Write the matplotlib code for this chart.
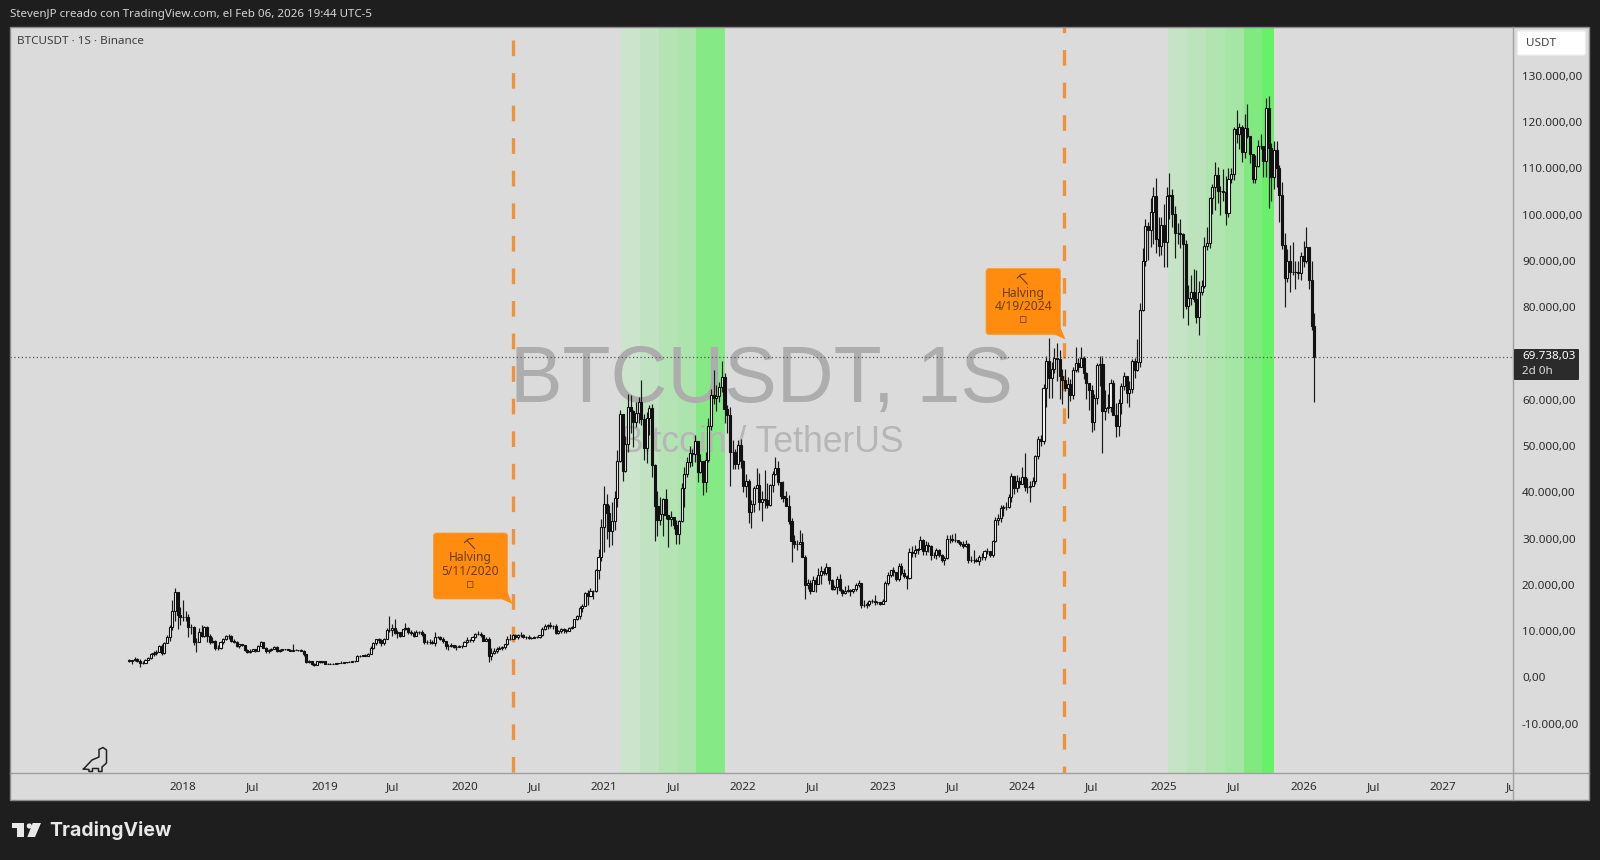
import matplotlib
matplotlib.use('Agg')
import matplotlib.pyplot as plt
import matplotlib.dates as mdates
from matplotlib.patches import Rectangle, FancyBboxPatch, Polygon, Circle
import numpy as np
import pandas as pd

plt.rcParams['font.family'] = ['Noto Sans', 'DejaVu Sans']

# weekly candles, thousands of USDT, first week starts 2017-08-14
close_2017 = [4.09,4.31,4.58,4.13,3.69,3.66,4.37,4.77,5.68,5.93,6.13,7.35,5.81,8.0,9.3,11.5,15.0,19.0,14.0,13.7]
high_2017 = [4.49,4.37,4.94,4.66,4.45,4.13,4.47,4.92,5.86,6.24,6.47,7.59,7.78,8.3,9.75,11.8,17.2,19.8,19.0,15.8]
low_2017 = [3.85,3.4,4.11,3.8,2.82,3.52,3.65,4.24,4.55,5.1,5.38,6.0,5.32,5.6,7.9,8.5,10.7,12.8,11.0,11.9]

close_2018 = [13.6,13.6,11.5,11.5,8.2,8.1,10.3,9.6,11.4,9.5,8.2,8.5,6.9,7.0,8.3,8.8,9.4,9.6,8.5,8.2,7.4,7.7,7.6,6.4,6.1,6.3,6.7,6.2,7.4,8.2,7.0,6.3,6.4,6.7,7.2,6.25,6.5,6.7,6.6,6.55,6.3,6.4,6.45,6.4,6.35,5.6,3.8,4.1,3.55,3.2,4.0,3.8,4.05]
high_2018 = [17.25,15,14.2,12.2,11.7,9.1,11.3,11.8,11.7,11.7,9.9,9.2,8.7,7.5,8.5,9,9.8,10,9.8,8.9,8.5,7.8,7.8,7.6,6.8,6.6,6.8,6.8,7.6,8.5,8.2,7.2,6.6,7,7.3,7.4,6.6,6.8,6.8,6.6,6.7,7.8,6.6,6.5,6.6,6.4,5.6,4.4,4.2,3.6,4.2,4.2,4.2]
low_2018 = [12.7,12.8,9.2,10,7.6,6,8.1,9.3,9.3,8.3,7.7,7.9,6.5,6.4,6.6,7.8,8.6,8.9,8.2,7.9,7.2,7,7.3,6.3,5.8,5.8,6.2,6.1,6.2,7.3,6.9,5.9,5.9,6.3,6.6,6.1,6.1,6.2,6.4,6.4,6.2,6.3,6.4,6.2,6.3,5.2,3.7,3.7,3.3,3.1,3.2,3.6,3.7]

close_2019 = [3.55,3.55,3.55,3.45,3.65,3.65,3.7,3.8,3.9,3.95,4.0,4.08,5.15,5.15,5.3,5.27,5.7,6.95,8.0,8.75,8.55,7.9,8.86,10.7,10.8,11.25,10.2,10.3,9.48,10.99,11.3,10.3,10.15,9.59,10.4,10.3,10.0,8.2,8.15,8.3,7.95,9.25,9.2,8.8,8.5,7.3,7.42,7.5,7.1,7.15,7.3,7.35]
high_2019 = [4.1,3.7,3.66,3.6,3.7,3.7,4.2,3.9,3.95,4.0,4.1,4.15,5.3,5.5,5.35,5.6,5.8,7.4,8.3,8.9,9.1,8.8,9.1,11.2,13.8,12.0,13.1,10.8,10.2,11.0,12.3,11.4,10.9,10.6,10.9,10.5,10.9,10.1,8.6,8.8,8.7,10.3,9.6,9.5,9.2,8.5,7.8,7.9,7.4,7.5,7.6,7.5]
low_2019 = [3.5,3.45,3.5,3.35,3.4,3.55,3.65,3.7,3.7,3.8,3.85,3.9,4.05,4.9,5.1,5.1,5.3,5.7,6.8,7.5,8.0,7.4,7.5,8.9,10.3,9.6,9.9,9.1,9.2,9.4,10.8,9.9,9.8,9.3,9.5,9.9,9.6,7.7,7.7,7.8,7.8,7.3,9.0,8.7,8.0,6.8,6.5,7.2,7.0,6.4,7.1,6.9]

close_2020 = [8.18,8.7,8.6,9.37,9.9,9.9,9.66,8.53,8.9,5.2,5.9,6.25,6.77,6.9,7.1,7.7,8.87,8.9,9.68,9.18,9.7,9.75,9.34,9.29,9.0,9.07,9.3,9.2,9.7,11.0,11.67,11.85,11.65,11.7,10.25,10.68,11.08,10.77,10.66,11.3,11.5,13.1,13.8,15.48,16.05,18.7,18.2,19.15,19.2,23.8,26.5,33.0]
high_2020 = [8.4,9.2,8.9,9.6,10.2,10.5,10.3,9.7,9.2,9.2,6.9,6.98,7.2,7.45,7.3,7.8,9.5,10.0,10.0,9.9,9.9,10.4,10.0,9.6,9.8,9.2,9.5,9.4,9.8,11.4,12.1,12.1,12.5,11.8,12.1,10.8,11.2,11.2,11.0,11.4,11.7,13.2,14.1,15.9,16.5,18.9,19.4,19.9,19.4,24.0,28.4,34.8]
low_2020 = [7.4,8.0,8.2,8.3,9.1,9.7,9.3,8.4,8.4,3.8,4.4,5.6,5.9,6.7,6.5,6.8,7.6,8.7,8.8,8.8,8.8,9.3,9.1,8.9,8.8,8.9,9.0,9.1,9.0,9.6,10.9,11.1,11.3,11.1,9.9,9.9,10.2,10.1,10.1,10.5,11.1,11.4,12.9,13.2,14.7,15.9,16.2,18.1,17.6,19.0,21.8,25.8]

close_2021 = [38.1,36.0,32.1,34.3,39.3,47.2,57.4,45.2,50.9,59.0,58.0,55.8,57.6,60.0,56.3,50.1,56.6,58.8,46.4,37.5,34.6,35.8,39.0,35.6,34.7,35.3,33.5,31.5,34.3,41.5,44.6,47.0,49.0,48.9,51.7,45.0,47.2,42.7,47.6,54.9,61.5,60.9,61.3,63.3,65.5,58.6,57.3,49.3,49.3,46.7,50.8,47.3]
high_2021 = [41.9,40.1,37.9,38.5,40.9,49.7,58.3,57.5,52.6,61.8,61.6,58.4,60,61.2,64.9,57.5,57.9,59.5,59.6,46.6,40.9,39.5,39.3,41.3,35.7,36.6,35.1,34.6,34.5,42.6,46,48.1,50.5,49.9,52.9,47,48.8,45.2,49.2,56.5,62.9,67,63.7,64.3,69,66.3,59.4,59,51.9,50,51.9,52.1]
low_2021 = [27.7,30.4,28.8,29.2,32.3,37.4,47,43,44.9,49.3,53.3,50.4,54.7,55.4,55,47.5,46.9,53,43.8,30,31.1,33.4,31,34.8,28.8,33.2,32.7,29.3,29.3,34.1,37.3,43.8,46,46.3,47.1,42.8,44.7,40,40.7,47.1,53.9,59.7,58,60.1,62.3,55.6,53.3,42,45.5,45.5,45.6,45.7]

close_2022 = [41.9,43.0,36.3,38.1,41.4,42.2,38.4,39.1,38.8,37.8,42.2,44.5,45.8,42.7,39.7,39.4,37.6,34.3,30.0,29.4,29.4,29.9,26.6,20.5,21.0,19.3,21.6,20.8,22.6,23.6,23.2,24.3,21.5,19.6,20.0,21.8,19.4,18.8,19.3,19.4,19.2,19.6,20.6,20.9,16.3,16.3,16.4,17.1,17.1,16.8,16.8,16.5]
high_2022 = [47.5,44.5,43.5,38.9,41.8,45.8,44.8,40.9,45.4,42.6,42.3,45.1,48.2,47.2,41.5,42.9,40.8,39.9,35,31.3,30.2,32.4,31.8,26.9,21.9,21.6,22.5,22.3,24.2,24.7,24.2,25.2,24.4,21.8,20.6,22.4,22.8,19.7,20.4,20.5,19.7,19.7,21,21.5,21,17.2,16.8,17.3,17.4,18.4,17.1,16.9]
low_2022 = [40.5,39.6,34,32.9,36.2,41.7,36.8,34.3,37.2,37.2,37.5,40.5,44.2,42.1,39.2,38.5,37.7,33.7,25.4,28.6,28,29.3,26.6,17.6,19.6,18.6,19.3,19,20.7,20.7,22.6,22.7,20.8,19.5,19.5,18.5,19.3,18.1,18.5,19,18.2,18.7,19.3,20.1,15.6,15.8,15.5,16,16.6,16.3,16.4,16.3]

close_2023 = [17.1,20.9,22.7,23.7,23.3,21.8,24.6,23.2,22.4,22.1,27.6,27.5,28.0,28.3,30.3,27.8,29.2,28.9,26.9,27.1,28.1,27.0,25.9,26.3,30.5,30.5,30.2,30.3,29.8,29.3,29.0,29.3,26.0,26.0,25.9,25.8,26.5,26.6,27.9,27.9,27.1,30.0,34.5,35.0,37.1,37.4,37.4,39.5,44.0,41.4,43.0,42.3]
high_2023 = [17.4,21.3,23.4,23.8,24.3,23.4,25.3,25.2,23.9,22.6,28.5,28.9,29.2,28.6,31,30.5,30,29.9,29.1,27.7,28.5,28.4,27.3,26.8,31.4,31.4,31.5,31.8,30.3,30,30,30.2,29.5,26.8,28.1,26.4,26.9,27.5,28,28.6,27.9,30.3,35.3,35.9,37.9,37.9,38.4,40.2,44.7,44,44.3,43.8]
low_2023 = [16.5,17,20.5,22.3,22.5,21.4,21.3,22.7,22.1,19.6,21.9,26.6,26.5,27.2,28.2,27.1,26.9,27.7,26,26.4,26.1,26.6,25.4,24.8,26.2,29.5,29.9,29.7,29.5,29,28.6,28.7,25.2,25.4,25.3,25.4,24.9,26,26,27.2,26.5,26.6,29.9,33.4,34.2,35.5,36.7,37.2,38.4,40.2,40.5,41.5]

close_2024 = [43.9,41.7,41.6,42.0,43.0,48.3,52.1,51.7,63.1,68.9,65.3,67.2,69.6,69.3,65.7,64.9,63.1,64.0,61.5,66.9,68.5,67.5,69.6,66.2,64.2,62.7,55.8,60.8,68.0,68.2,58.2,58.7,58.9,64.2,57.3,54.8,59.9,63.4,65.6,62.0,62.8,69.0,67.0,68.7,80.0,90.6,98.0,97.2,101.1,104.5,95.2,93.7,98.3]
high_2024 = [45.9,49,43.6,42.9,43.9,48.6,52.8,52.9,64,70,73.8,68.7,71.6,72.8,71.3,67.2,67.2,65.5,65,67.7,71.9,69.5,71.9,70,66.5,63.4,63.8,61.8,68.4,70,70,62.7,61.8,65,64.9,59.8,60.7,64.1,66.5,65.6,64.5,69.4,69.5,73.6,81.5,93.3,99.6,98.9,104,106.5,108.4,99.9,99.9]
low_2024 = [42.6,40.8,40.3,38.5,41.9,42.3,47.7,50.6,50.9,59,60.8,60.8,66.2,64.5,60.6,59.7,62.4,56.6,60.2,60.7,66.6,66.6,67.6,65.1,60.7,58.4,53.5,54,59.7,63.4,49.1,56.1,57.6,57.8,57.2,52.5,52.6,57.5,62.7,59.8,59,62,65.2,66.8,67.5,79.6,89.4,90.7,93.6,94.2,92.2,91.5,91.7]

close_2025 = [94.5,104.5,104.7,100.6,96.5,96.5,96.3,94.2,80.7,82.5,83.8,82.3,78.4,83.7,85.1,93.7,94.3,104.1,106.4,109.0,105.7,105.7,105.5,100.9,108.3,109.2,119.0,117.9,119.4,114.0,119.3,117.4,113.5,108.3,111.1,115.3,115.3,112.2,123.5,115.0,108.6,114.5,110.5,104.7,94.0,86.8,90.4,88.2,88.1,88.1,87.8,91.5]
high_2025 = [102.7,106.4,109.6,106,102.3,98.8,99.5,96.5,95,85.3,87.5,88.7,88.5,86.1,86.5,95.7,97.9,104.3,107.1,111.9,110.7,106.8,110.4,108.9,110.6,110.5,119.5,123.2,120.2,119.8,122.3,124.5,117.5,113.6,113.4,116.7,117.9,113.5,125.7,126.2,115.9,116.4,116.4,111.2,107.5,96.6,93.1,93.9,94.6,90.6,90.6,92.5]
low_2025 = [89.3,89.3,99.5,97.8,91.2,94.1,93.4,78.2,80.1,76.6,81.1,81.6,77.1,74.5,83.1,84.7,92.8,93.4,100.7,101.5,103.1,100.4,103.4,98.2,100,107.3,108,116,114.7,111.9,112.7,117,111.7,107.3,107.3,110.8,114.7,108.7,108.6,102,103.5,106,106.4,98.9,93,80.6,86,83.8,87.5,84.5,86.6,86.3]

close_2026 = [90.5,93.6,86.5,76.4,69.738]
high_2026 = [94.8,97.9,91.1,90.6,79.3]
low_2026 = [89.3,90.0,84.5,75.7,60.0]

last_price = 69738.03
first_open = 4.26

halving_dates = ['2020-05-11', '2024-04-19']
band_edges_2021 = ['2021-02-17', '2021-04-08', '2021-05-27', '2021-07-16', '2021-09-01', '2021-11-17']
band_edges_2025 = ['2025-01-16', '2025-03-08', '2025-04-25', '2025-06-14', '2025-08-02', '2025-09-18', '2025-10-21']
band_colors_2021 = ['#cce3cc', '#c2e3c2', '#b4e3b4', '#ade4ad', '#85e985']
band_colors_2025 = ['#c5e3c5', '#bde3bd', '#b0e5b0', '#a5e6a5', '#80e980', '#68f068']

price_ticks = [130000, 120000, 110000, 100000, 90000, 80000, 60000, 50000, 40000, 30000, 20000, 10000, 0, -10000]
price_labels = ['130.000,00', '120.000,00', '110.000,00', '100.000,00', '90.000,00', '80.000,00',
                '60.000,00', '50.000,00', '40.000,00', '30.000,00', '20.000,00', '10.000,00', '0,00', '-10.000,00']

# the scale labels sit on the first weekly bar of each period
time_ticks = ['2018-01-01', '2018-07-02', '2019-01-07', '2019-07-01', '2020-01-06', '2020-07-06', '2021-01-04',
              '2021-07-05', '2022-01-03', '2022-07-04', '2023-01-02', '2023-07-03', '2024-01-01', '2024-07-01',
              '2025-01-06', '2025-07-07', '2026-01-05', '2026-07-06', '2027-01-04', '2027-07-05']
time_labels = ['2018', 'Jul', '2019', 'Jul', '2020', 'Jul', '2021', 'Jul', '2022', 'Jul', '2023', 'Jul',
               '2024', 'Jul', '2025', 'Jul', '2026', 'Jul', '2027', 'Jul']

close = 1000 * np.array(close_2017 + close_2018 + close_2019 + close_2020 + close_2021 + close_2022 + close_2023 + close_2024 + close_2025 + close_2026)
high = 1000 * np.array(high_2017 + high_2018 + high_2019 + high_2020 + high_2021 + high_2022 + high_2023 + high_2024 + high_2025 + high_2026)
low = 1000 * np.array(low_2017 + low_2018 + low_2019 + low_2020 + low_2021 + low_2022 + low_2023 + low_2024 + low_2025 + low_2026)
opens = np.r_[first_open * 1000, close[:-1]]
weeks = mdates.date2num(pd.date_range('2017-08-14', periods=len(close), freq='7D'))

W, H = 1600, 860
DARK = '#1e1e1e'
PANE = '#dbdbdb'
ORANGE = '#ff8c0f'
BROWN = '#6b3d0c'
TEXT = '#2b2b2b'

fig = plt.figure(figsize=(16, 8.6), dpi=100, facecolor=DARK)

# pane position in pixels
x0, x1, y0, y1 = 10, 1513, 27, 773
ax = fig.add_axes([x0 / W, 1 - y1 / H, (x1 - x0) / W, (y1 - y0) / H], facecolor=PANE, zorder=1)
px_2018, px_2026 = 183, 1302
d18, d26 = mdates.date2num(pd.Timestamp('2018-01-01')), mdates.date2num(pd.Timestamp('2026-01-01'))
per_px = (d26 - d18) / (px_2026 - px_2018)
ax.set_xlim(d18 + (x0 - px_2018) * per_px, d18 + (x1 - px_2018) * per_px)
# 46.3 px per 10.000, zero at y=680
ax.set_ylim((680 - y1) / 46.3 * 10000, (680 - y0) / 46.3 * 10000)
ax.set_xticks([])
ax.set_yticks([])
for s in ax.spines.values():
    s.set_visible(False)

# overlay in pixel coordinates for the chrome around the pane
px = fig.add_axes([0, 0, 1, 1], zorder=2, facecolor='none')
px.set_xlim(0, W)
px.set_ylim(H, 0)
px.axis('off')

# green bands
for edges, colors in [(band_edges_2021, band_colors_2021), (band_edges_2025, band_colors_2025)]:
    nums = mdates.date2num(pd.to_datetime(edges))
    for i, c in enumerate(colors):
        ax.axvspan(nums[i], nums[i + 1], color=c, lw=0, zorder=1)

# watermark
ax.text(761, 401.7, 'BTCUSDT, 1S', transform=px.transData, family='Liberation Sans', fontsize=56.6,
        color='#adadad', ha='center', va='baseline', zorder=2)
ax.text(762, 452.3, 'Bitcoin / TetherUS', transform=px.transData, family='Liberation Sans', fontsize=25.6,
        color='#b6b6b6', ha='center', va='baseline', zorder=2)

# halvings, dash phase counted from the top end of each line
for d, top_px in zip(halving_dates, [40, 17.4]):
    xd = mdates.date2num(pd.Timestamp(d))
    ax.plot([xd, xd], [(680 - top_px) / 46.3 * 10000, ax.get_ylim()[0]], color='#f0923a', lw=2.4,
            linestyle=(0, (4.7, 5.07)), dash_capstyle='butt', zorder=3)

# candles
up = close >= opens
ax.vlines(weeks, low, high, color='#1a1a1a', lw=0.85, zorder=4)
body_low = np.minimum(opens, close)
body_h = np.abs(close - opens)
ax.bar(weeks[up], body_h[up], bottom=body_low[up], width=5.4, color='white', edgecolor='#111111', lw=0.8, zorder=5)
ax.bar(weeks[~up], body_h[~up], bottom=body_low[~up], width=5.4, color='#111111', edgecolor='#111111', lw=0.8, zorder=5)

# last price line
ax.axhline(last_price, color='#555555', lw=0.9, linestyle=(0, (1, 2)), zorder=6)

# right and bottom scale
px.add_patch(Rectangle((x1, y0), 1589 - x1, 800 - y0, fc=PANE, ec='none', zorder=1))
px.add_patch(Rectangle((x0, y1), x1 - x0, 800 - y1, fc=PANE, ec='none', zorder=1))
px.plot([x1, x1], [y0, 800], color='#a0a0a0', lw=1, zorder=2)
px.plot([x0, 1589], [y1, y1], color='#a0a0a0', lw=1, zorder=2)
px.add_patch(Rectangle((x0, y0), 1589 - x0, 800 - y0, fc='none', ec='#8c8c8c', lw=1, zorder=3))

ui = dict(color=TEXT, fontsize=8.4, va='center', zorder=4)
for p, lab in zip(price_ticks, price_labels):
    px.text(1522, 679 - p * 46.3 / 10000, lab, ha='left', **ui)
for t, lab in zip(time_ticks, time_labels):
    xp = px_2018 + (mdates.date2num(pd.Timestamp(t)) - d18) / per_px
    txt = px.text(xp, 787.5, lab, ha='center', **ui)
    txt.set_clip_on(True)
    txt.set_clip_path(Rectangle((x0, y0), x1 - x0, 800 - y0, transform=px.transData))

# unit box and last price tag
px.add_patch(FancyBboxPatch((1517.5, 31), 68, 24, boxstyle='round,pad=0,rounding_size=2', fc='white', ec='#efefef', lw=1, zorder=4))
px.text(1526, 43.5, 'USDT', color='#444444', fontsize=8.4, va='center', zorder=5)
px.add_patch(FancyBboxPatch((1514, 349), 65, 31, boxstyle='round,pad=0,rounding_size=1', fc='#2b2b2b', ec='none', zorder=4))
px.text(1522, 357, '69.738,03', color='white', fontsize=8.4, fontweight='bold', va='center', zorder=5)
px.text(1522, 371.5, '2d 0h', color='#dddddd', fontsize=8.4, va='center', zorder=5)

# titles
px.text(10, 14.5, 'StevenJP creado con TradingView.com, el Feb 06, 2026 19:44 UTC-5', color='#d6d6d6', fontsize=8.3, va='center')
px.text(17, 41.5, 'BTCUSDT · 1S · Binance', color='#3c3c3c', fontsize=8.4, va='center', zorder=5)

# halving callouts, pick glyph is not in any installed font so it is drawn
for bx, by, bw, bh, date_lab in [(433.5, 533, 74, 66, '5/11/2020'), (986, 268.5, 74.5, 66, '4/19/2024')]:
    px.add_patch(FancyBboxPatch((bx, by), bw, bh, boxstyle='round,pad=0,rounding_size=3', fc=ORANGE, ec='#f7a040', lw=0.6, zorder=6))
    px.add_patch(Polygon([(bx + bw, by + bh - 7), (bx + bw + 5, by + bh + 5), (bx + bw - 6, by + bh)], fc=ORANGE, ec='none', zorder=6))
    cx = bx + bw / 2
    px.plot([cx - 6, cx - 2, cx + 2.5], [by + 9.5, by + 6, by + 5.5], color=BROWN, lw=0.8, zorder=7)
    px.plot([cx - 3.5, cx + 4], [by + 7.5, by + 15.5], color=BROWN, lw=0.8, zorder=7)
    px.text(cx, by + 24.5, 'Halving', color=BROWN, fontsize=8.7, ha='center', va='center', zorder=7)
    px.text(cx, by + 38.5, date_lab, color=BROWN, fontsize=8.7, ha='center', va='center', zorder=7)
    px.text(cx, by + 51.5, '▫', color=BROWN, fontsize=9, ha='center', va='center', zorder=7)

# dino icon at the pane's bottom left
dino_x = [83.5, 92, 99, 99, 103, 106.5, 106.5, 102, 102, 98.5, 98.5, 92.5, 92.5, 89, 89, 83.5]
dino_y = [769, 760, 757, 749.5, 747.5, 750, 763, 767, 771.5, 771.5, 768.5, 768.5, 771.5, 771.5, 769.5, 769]
px.plot(dino_x, dino_y, color='#222222', lw=1.1, zorder=5, solid_joinstyle='round')

# TradingView logo
px.add_patch(Polygon([(12, 823), (24, 823), (24, 837), (17, 837), (17, 827.5), (12, 827.5)], fc='#e8e8e8', ec='none'))
px.add_patch(Circle((29.3, 826), 2.6, fc='#e8e8e8', ec='none'))
px.add_patch(Polygon([(32.7, 823), (41, 823), (35, 837), (27.3, 837)], fc='#e8e8e8', ec='none'))
px.text(49, 830, 'TradingView', color='#e8e8e8', fontsize=14, family='Inter', fontweight='bold', va='center')

plt.savefig('out.png', dpi=100, facecolor=fig.get_facecolor())
